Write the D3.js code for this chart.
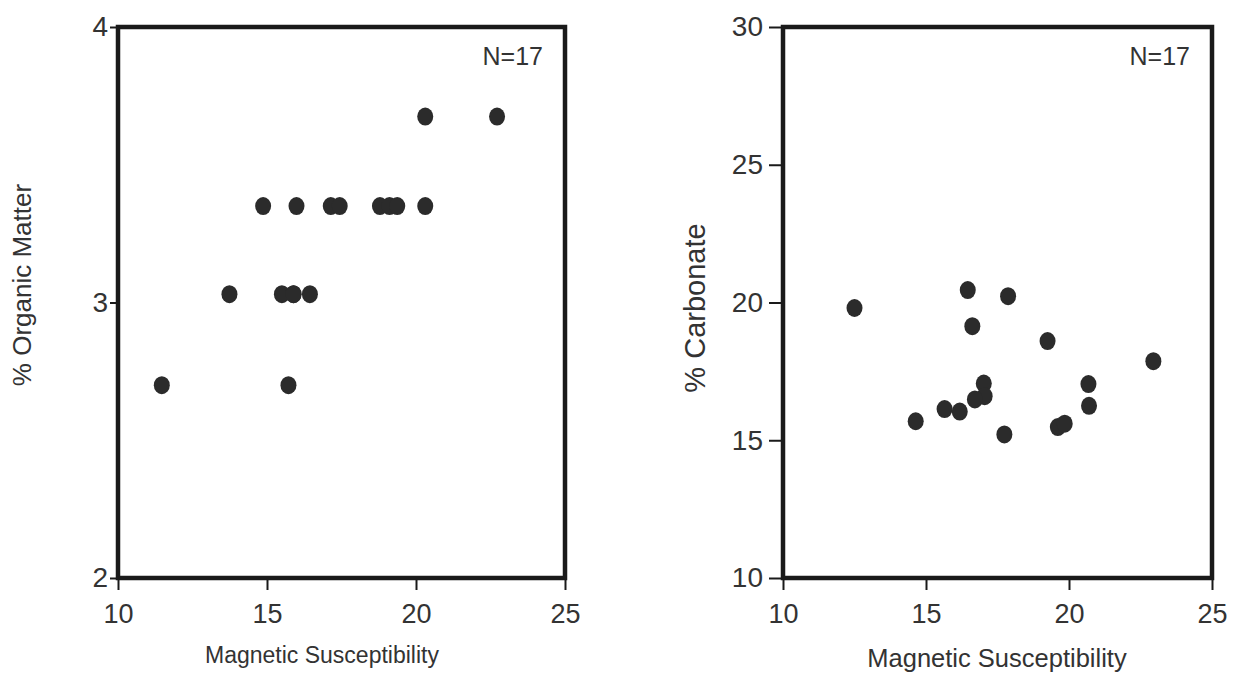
<!DOCTYPE html>
<html>
<head>
<meta charset="utf-8">
<script src="https://cdn.jsdelivr.net/npm/d3@7"></script>
<style>
  body { margin: 0; background: #fff; }
  svg text { font-family: "Liberation Sans", Arial, sans-serif; fill: #333; }
</style>
</head>
<body>
<div id="chart"></div>
<script>
// magnetic susceptibility vs % organic matter (left panel)
const organicX = [11.47, 13.74, 15.5, 15.89, 16.44, 15.72, 14.87, 15.99, 17.14, 17.44, 18.79, 19.11, 19.37, 20.31, 20.31, 22.72, 15.89];
const organicY = [2.70, 3.03, 3.03, 3.03, 3.03, 2.70, 3.35, 3.35, 3.35, 3.35, 3.35, 3.35, 3.35, 3.35, 3.675, 3.675, 3.03];

// magnetic susceptibility vs % carbonate (right panel)
const carbX = [12.5, 16.46, 17.87, 16.62, 19.25, 22.95, 17.02, 17.05, 16.71, 15.65, 16.18, 14.64, 17.74, 19.61, 19.85, 20.68, 20.7];
const carbY = [19.8, 20.45, 20.23, 19.14, 18.6, 17.87, 17.06, 16.6, 16.48, 16.13, 16.04, 15.69, 15.21, 15.48, 15.6, 17.04, 16.25];

const xTicks = [10, 15, 20, 25];
const organicTicks = [2, 3, 4];
const carbTicks = [10, 15, 20, 25, 30];

const W = 1237, H = 675;
const svg = d3.select("#chart").append("svg")
    .attr("width", W)
    .attr("height", H);

function panel(opts) {
    const x = d3.scaleLinear().domain([10, 25]).range([opts.left, opts.right]);
    const y = d3.scaleLinear().domain(opts.yDomain).range([opts.bottom, opts.top]);
    const g = svg.append("g");

    const xAxis = g.append("g")
        .attr("transform", `translate(0,${opts.bottom})`)
        .call(d3.axisBottom(x).tickValues(xTicks).tickSize(12).tickPadding(14));
    xAxis.select(".domain").remove();
    xAxis.selectAll("line").attr("stroke", "#1a1a1a").attr("stroke-width", 2);
    xAxis.selectAll("text").style("font-size", "27px").attr("fill", "#333");

    const yAxis = g.append("g")
        .attr("transform", `translate(${opts.left},0)`)
        .call(d3.axisLeft(y).tickValues(opts.yTicks).tickFormat(d3.format("d"))
            .tickSize(opts.yTick).tickPadding(opts.yPad));
    yAxis.select(".domain").remove();
    yAxis.selectAll("line").attr("stroke", "#1a1a1a").attr("stroke-width", 2);
    yAxis.selectAll("text").style("font-size", "28px").attr("fill", "#333");

    // frame
    g.append("rect")
        .attr("x", opts.left)
        .attr("y", opts.top)
        .attr("width", opts.right - opts.left)
        .attr("height", opts.bottom - opts.top)
        .attr("fill", "none")
        .attr("stroke", "#1a1a1a")
        .attr("stroke-width", 4.5);

    g.selectAll(".dot")
        .data(opts.xs.map((v, i) => [v, opts.ys[i]]))
        .enter()
        .append("ellipse")
        .attr("class", "dot")
        .attr("cx", d => x(d[0]))
        .attr("cy", d => y(d[1]))
        .attr("rx", 8)
        .attr("ry", 9)
        .attr("fill", "#2b2b2b");

    g.append("text")
        .attr("x", opts.right - 22)
        .attr("y", opts.top + 38)
        .attr("text-anchor", "end")
        .style("font-size", "25px")
        .text("N=17");

    g.append("text")
        .attr("x", opts.xTitleX)
        .attr("y", opts.xTitleY)
        .attr("text-anchor", "middle")
        .style("font-size", opts.xTitleSize)
        .text("Magnetic Susceptibility");

    g.append("text")
        .attr("transform", `translate(${opts.yTitleX},${opts.yTitleY}) rotate(-90)`)
        .attr("text-anchor", "middle")
        .attr("dy", "0.35em")
        .style("font-size", opts.yTitleSize)
        .text(opts.yTitle);
}

panel({
    left: 118, right: 565, top: 27, bottom: 578,
    yDomain: [2, 4], yTicks: organicTicks, yTick: 8, yPad: 2,
    xs: organicX, ys: organicY,
    xTitleX: 322, xTitleY: 663, xTitleSize: "23px",
    yTitle: "% Organic Matter", yTitleX: 22, yTitleY: 285, yTitleSize: "26px"
});

panel({
    left: 783, right: 1212, top: 27, bottom: 578,
    yDomain: [10, 30], yTicks: carbTicks, yTick: 14, yPad: 6,
    xs: carbX, ys: carbY,
    xTitleX: 997, xTitleY: 667, xTitleSize: "25.5px",
    yTitle: "% Carbonate", yTitleX: 695, yTitleY: 308, yTitleSize: "29px"
});
</script>
</body>
</html>
